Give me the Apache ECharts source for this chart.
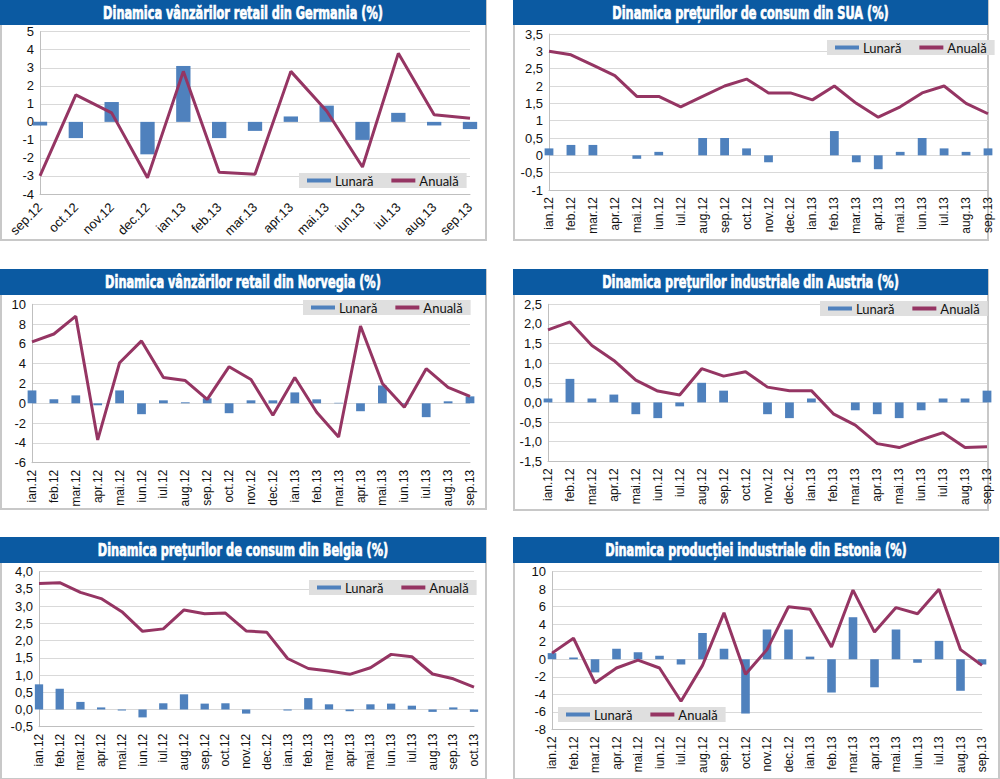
<!DOCTYPE html>
<html>
<head>
<meta charset="utf-8">
<script src="https://cdn.jsdelivr.net/npm/echarts@6/dist/echarts.min.js"></script>
<style>
html,body{margin:0;padding:0;background:#fff;}
#c{width:1000px;height:779px;}
</style>
</head>
<body>
<div id="c"></div>
<script>
// ---------- DATA ----------
const seriesNames = ['Lunară', 'Anuală'];

const deCategories = ['sep.12','oct.12','nov.12','dec.12','ian.13','feb.13','mar.13','apr.13','mai.13','iun.13','iul.13','aug.13','sep.13'];
const months21 = ['ian.12','feb.12','mar.12','apr.12','mai.12','iun.12','iul.12','aug.12','sep.12','oct.12','nov.12','dec.12','ian.13','feb.13','mar.13','apr.13','mai.13','iun.13','iul.13','aug.13','sep.13'];
const months22 = ['ian.12','feb.12','mar.12','apr.12','mai.12','iun.12','iul.12','aug.12','sep.12','oct.12','nov.12','dec.12','ian.13','feb.13','mar.13','apr.13','mai.13','iun.13','iul.13','aug.13','sep.13','oct.13'];

// Germania - vanzari retail
const deMonthly = [-0.2,-0.9,1.1,-1.8,3.1,-0.9,-0.5,0.3,0.9,-1.0,0.5,-0.2,-0.4];
const deAnnual  = [-3.0,1.5,0.5,-3.1,2.8,-2.8,-2.9,2.8,0.6,-2.5,3.8,0.4,0.2];

// SUA - preturi de consum
const usMonthly = [0.2,0.3,0.3,0,-0.1,0.1,0,0.5,0.5,0.2,-0.2,0,0,0.7,-0.2,-0.4,0.1,0.5,0.2,0.1,0.2];
const usAnnual  = [3.0,2.9,2.6,2.3,1.7,1.7,1.4,1.7,2.0,2.2,1.8,1.8,1.6,2.0,1.5,1.1,1.4,1.8,2.0,1.5,1.2];

// Norvegia - vanzari retail
const noMonthly = [1.3,0.4,0.8,-0.2,1.3,-1.1,0.3,0.1,0.5,-1.0,0.3,0.3,1.1,0.4,0.05,-0.8,1.8,-0.1,-1.4,0.2,0.7];
const noAnnual  = [6.2,7.0,8.8,-3.7,4.1,6.3,2.6,2.3,0.4,3.7,2.4,-1.2,2.6,-0.9,-3.4,7.8,2.0,-0.4,3.5,1.6,0.7];

// Austria - preturi industriale
const atMonthly = [0.1,0.6,0.1,0.2,-0.3,-0.4,-0.1,0.5,0.3,0,-0.3,-0.4,0.1,0,-0.2,-0.3,-0.4,-0.2,0.1,0.1,0.3];
const atAnnual  = [1.85,2.05,1.45,1.07,0.57,0.29,0.19,0.86,0.67,0.78,0.39,0.3,0.3,-0.29,-0.58,-1.05,-1.15,-0.95,-0.77,-1.15,-1.13];

// Belgia - preturi de consum
const beMonthly = [0.73,0.6,0.22,0.06,-0.03,-0.23,0.18,0.44,0.17,0.18,-0.12,0,-0.03,0.33,0.15,-0.05,0.15,0.17,0.11,-0.07,0.06,-0.07];
const beAnnual  = [3.66,3.68,3.4,3.22,2.84,2.27,2.34,2.89,2.78,2.8,2.28,2.24,1.48,1.19,1.12,1.02,1.21,1.6,1.53,1.03,0.89,0.65];

// Estonia - productie industriala
const eeMonthly = [0.7,0.2,-1.5,1.2,0.8,0.4,-0.6,3.0,1.2,-6.2,3.4,3.4,0.3,-3.8,4.8,-3.2,3.4,-0.4,2.1,-3.6,-0.6];
const eeAnnual  = [0.7,2.4,-2.7,-1.0,-0.1,-1.0,-4.8,-0.7,5.3,-1.7,1.1,6.0,5.7,1.4,7.9,3.1,5.9,5.2,8.0,1.1,-0.7];

const titles = [
  'Dinamica vânzărilor retail din Germania (%)',
  'Dinamica prețurilor de consum din SUA (%)',
  'Dinamica vânzărilor retail din Norvegia (%)',
  'Dinamica prețurilor industriale din Austria (%)',
  'Dinamica prețurilor de consum din Belgia (%)',
  'Dinamica producției industriale din Estonia (%)'
];

// ---------- LAYOUT / STYLE ----------
const BAR = '#4f81bd', LINE = '#953563', TITLEBG = '#0b5aa2';
const fmtInt = v => String(v).replace('.', ',');
const fmt1 = v => v.toFixed(1).replace('.', ',');

const panels = [
  {frame:[0,0,486,240],   bar:[0,0,486,25],   grid:{left:40, top:31.7, width:430, height:162.3}, y:[-4,5,1],     fmt:fmtInt, cats:deCategories, m:deMonthly, a:deAnnual, rot:45, legend:{left:299, top:173}},
  {frame:[513,0,475,240], bar:[513,0,475,25], grid:{left:549, top:34, width:439, height:156},    y:[-1,3.5,0.5], fmt:fmtInt, cats:months21, m:usMonthly, a:usAnnual, rot:90, legend:{left:827, top:40}},
  {frame:[0,269,486,240], bar:[0,269,486,26], grid:{left:32, top:304.3, width:438, height:158.4},y:[-6,10,2],    fmt:fmtInt, cats:months21, m:noMonthly, a:noAnnual, rot:90, legend:{left:303, top:300}},
  {frame:[513,269,475,241],bar:[513,269,475,26],grid:{left:548, top:304.3, width:439, height:157},y:[-1.5,2.5,0.5],fmt:fmt1, cats:months21, m:atMonthly, a:atAnnual, rot:90, legend:{left:820, top:301}},
  {frame:[0,537,486,242], bar:[0,537,486,26], grid:{left:39, top:571.7, width:435, height:155},  y:[-0.5,4,0.5], fmt:fmt1, cats:months22, m:beMonthly, a:beAnnual, rot:90, legend:{left:309, top:580}},
  {frame:[513,537,486,242],bar:[513,537,486,26],grid:{left:552, top:571.7, width:430, height:157.6},y:[-8,10,2],  fmt:fmtInt, cats:months21, m:eeMonthly, a:eeAnnual, rot:90, legend:{left:558, top:707}}
];

// title text scale (condensed look)
const TITLE_FONT = "bold 18px 'Liberation Sans Narrow', 'DejaVu Sans Condensed', sans-serif";
const ctx = document.createElement('canvas').getContext('2d');
ctx.font = TITLE_FONT;
const titleScale = 280 / ctx.measureText(titles[0]).width;

const grids = [], xAxes = [], yAxes = [], series = [], legends = [], graphics = [];

panels.forEach((p, i) => {
  grids.push(Object.assign({containLabel:false}, p.grid));
  xAxes.push({
    type:'category', gridIndex:i, data:p.cats, boundaryGap:false,
    axisLine:{show:true, onZero:false, lineStyle:{color:'#bfbfbf', width:1}},
    axisTick:{show:false},
    axisLabel:{interval:0, rotate:p.rot, margin:p.rot===90?7:11, fontSize:p.rot===90?12:13, color:'#111', fontFamily:'Liberation Sans, Arial, sans-serif'},
    splitLine:{show:false}
  });
  yAxes.push({
    type:'value', gridIndex:i, min:p.y[0], max:p.y[1], interval:p.y[2],
    axisLine:{show:true, lineStyle:{color:'#bfbfbf', width:1}},
    axisTick:{show:false},
    axisLabel:{margin:6, fontSize:13, color:'#111', fontFamily:'Liberation Sans, Arial, sans-serif', formatter:p.fmt},
    splitLine:{show:true, lineStyle:{color:'#d9d9d9', width:1}}
  });
  series.push({
    name:seriesNames[0], type:'bar', xAxisIndex:i, yAxisIndex:i, data:p.m,
    barWidth:'40%', clip:false, color:BAR, itemStyle:{color:BAR}, animation:false
  });
  series.push({
    name:seriesNames[1], type:'line', xAxisIndex:i, yAxisIndex:i, data:p.a,
    showSymbol:false, symbol:'none', color:LINE, lineStyle:{color:LINE, width:3}, animation:false, z:3
  });
  legends.push({
    left:p.legend.left, top:p.legend.top, orient:'horizontal',
    backgroundColor:'#dfdfdf', padding:[1,8,1,8], itemGap:18, itemWidth:24, itemHeight:4,
    textStyle:{fontSize:13, color:'#111', fontFamily:'Lato, Open Sans, sans-serif', padding:[0,0,0,-1]},
    data:[{name:seriesNames[0], icon:'rect'}, {name:seriesNames[1], icon:'rect'}],
    selectedMode:false
  });
  const f = p.frame, b = p.bar;
  graphics.push({type:'rect', shape:{x:f[0]+1, y:f[1]+1, width:f[2]-1, height:f[3]-1}, style:{fill:'#fff', stroke:'#c8c8c8', lineWidth:2}, z:-10, silent:true});
  graphics.push({type:'rect', shape:{x:b[0], y:b[1], width:b[2], height:b[3]}, style:{fill:TITLEBG}, z:-9, silent:true});
  graphics.push({type:'text', x:b[0]+b[2]/2, y:b[1]+b[3]/2+0.5, scaleX:titleScale, scaleY:1,
    style:{x:0, y:0, text:titles[i], font:TITLE_FONT, fill:'#fff', stroke:'#fff', lineWidth:0.7, textAlign:'center', textVerticalAlign:'middle'}, z:10, silent:true});
});

const chart = echarts.init(document.getElementById('c'), null, {renderer:'svg', width:1000, height:779});
chart.setOption({
  animation:false,
  backgroundColor:'#fff',
  grid:grids, xAxis:xAxes, yAxis:yAxes, series:series, legend:legends,
  graphic:{elements:graphics}
});
</script>
</body>
</html>
